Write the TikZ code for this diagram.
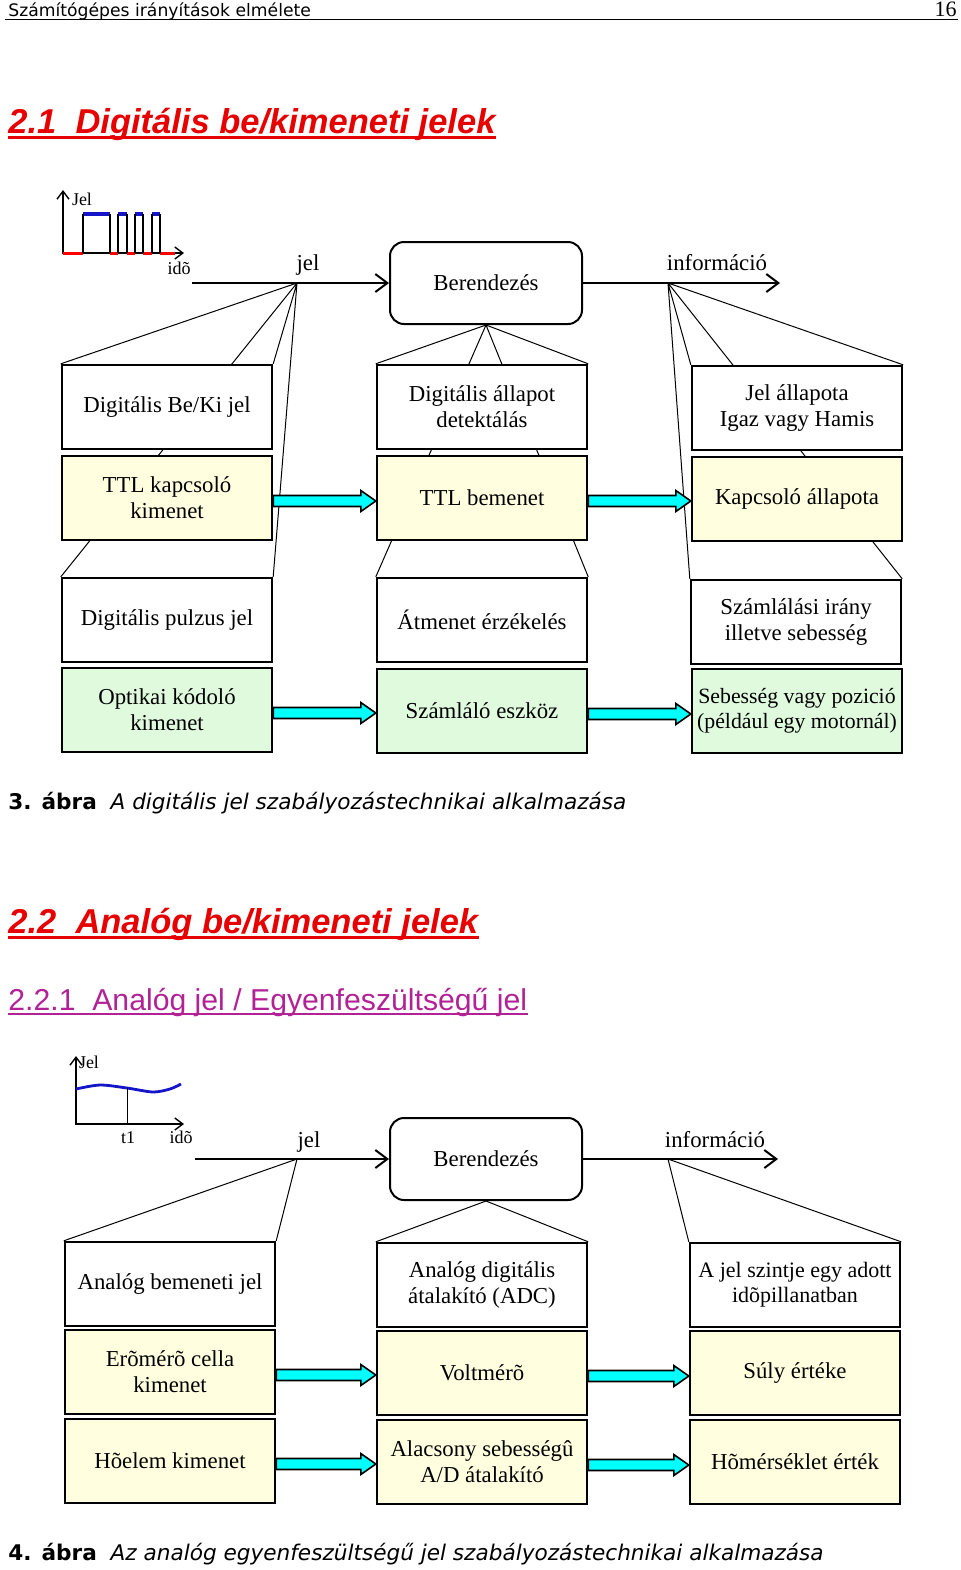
\documentclass[tikz,border=0pt]{standalone}
\usepackage{fontspec}
\setmainfont{Liberation Serif}
\setsansfont{Liberation Sans}
\newfontfamily\verdana{DejaVu Sans}
\usetikzlibrary{arrows.meta,positioning,calc,backgrounds}

\definecolor{boxyellow}{RGB}{255,255,224}
\definecolor{boxgreen}{RGB}{224,250,222}
\definecolor{headred}{RGB}{230,0,0}
\definecolor{subpurple}{RGB}{178,34,150}
\definecolor{sigblue}{RGB}{20,20,200}
\definecolor{arrowcyan}{RGB}{0,255,255}

\tikzset{
  box/.style={draw,line width=1.2pt,fill=white,minimum width=105pt,minimum height=42pt,
    align=center,inner sep=1pt,font=\fontsize{11.4}{13}\selectfont},
  ttlbox/.style={box,fill=boxyellow},
  encbox/.style={box,fill=boxgreen},
  device/.style={draw,line width=1pt,rounded corners=7pt,fill=white,minimum width=96pt,
    minimum height=41pt,font=\fontsize{11.4}{13}\selectfont},
  fan/.style={line width=0.5pt},
  flow/.style={line width=1pt,-{Straight Barb[length=6pt,width=9pt]}},
  axis/.style={line width=0.7pt,-{Straight Barb[length=4pt,width=6pt]}},
  lbl/.style={font=\fontsize{11.4}{13}\selectfont,inner sep=0pt,anchor=base},
  small/.style={font=\fontsize{9}{10}\selectfont,inner sep=0pt},
  heading/.style={anchor=base west,inner sep=0pt,text=headred,
    font=\sffamily\bfseries\itshape\fontsize{17.25}{20}\selectfont},
  subhead/.style={anchor=base west,inner sep=0pt,text=subpurple,
    font=\sffamily\fontsize{15.1}{18}\selectfont},
  caption/.style={anchor=base west,inner sep=0pt,font=\verdana\fontsize{10.8}{13}\selectfont},
  fat/.style={draw=black,line width=0.8pt,fill=arrowcyan},
}

\newcommand{\fatarrow}[2]{%
  \coordinate (tail) at ($(#1.east)+(0,3)$);
  \coordinate (tip) at (tail -| #2.west);
  \draw[fat] ($(tail)+(0,-5.5)$) -- ($(tip)+(-15,-5.5)$) -- ($(tip)+(-15,-10.5)$)
    -- (tip) -- ($(tip)+(-15,10.5)$) -- ($(tip)+(-15,5.5)$)
    -- ($(tail)+(0,5.5)$) -- cycle;}

\begin{document}
\begin{tikzpicture}[x=0.5pt,y=-0.5pt]
  \useasboundingbox (0,0) rectangle (960,1570);

  \node[anchor=base west,inner sep=0pt,font=\verdana\fontsize{8.6}{10}\selectfont] (runhead) at (8,16) {Számítógépes irányítások elmélete};
  \node[anchor=base east,inner sep=0pt,font=\fontsize{11}{12}\selectfont] (pageno) at (957,16) {16};
  \draw[line width=0.8pt] (5,19.5) -- (958,19.5);

  \node[heading] (sec21) at (8,133) {2.1\ \ Digitális be/kimeneti jelek};
  \draw[headred,line width=1.4pt] ($(sec21.base west)+(0,4.5)$) -- ($(sec21.base east)+(0,4.5)$);

  \draw[axis] (63,254) -- (63,190);
  \draw[axis] (63,253) -- (184,253);
  \node[small] (jelax1) at (82,199) {Jel};
  \node[small] (ido1) at (179,268) {idõ};
  \draw[red,line width=1.5pt] (63,253) -- (83,253) (110,253) -- (118,253) (127,253) -- (135,253)
    (143,253) -- (152,253) (160,253) -- (175,253);
  \draw[sigblue,line width=1.6pt] (83,214) -- (110,214) (118,214) -- (127,214) (135,214) -- (143,214)
    (152,214) -- (160,214);
  \foreach \e in {83,110,118,127,135,143,152,160}
    \draw[line width=0.8pt] (\e,253) -- (\e,214);

  \node[device] (dev1) at (486,283) {Berendezés};
  \coordinate (sigin1) at (192,283);
  \coordinate (infout1) at (780,283);
  \coordinate (jelpt1) at (297,283);
  \coordinate (infopt1) at (668,283);
  \draw[flow] (sigin1) -- (dev1);
  \draw[flow] (dev1) -- (infout1);
  \node[lbl] (jellbl1) at (308,270) {jel};
  \node[lbl] (infolbl1) at (717,270) {információ};

  \node[box] (A1) at (167,407) {Digitális Be/Ki jel};
  \node[ttlbox] (A2) at (167,498) {TTL kapcsoló\\kimenet};
  \node[box] (A3) at (167,620) {Digitális pulzus jel};
  \node[encbox] (A4) at (167,710) {Optikai kódoló\\kimenet};
  \node[box] (B1) at (482,407) {Digitális állapot\\detektálás};
  \node[ttlbox] (B2) at (482,498) {TTL bemenet};
  \node[box] (B3) at (482,620) {Átmenet érzékelés};
  \node[encbox] (B4) at (482,711) {Számláló eszköz};
  \node[box] (C1) at (797,408) {Jel állapota\\Igaz vagy Hamis};
  \node[ttlbox] (C2) at (797,499) {Kapcsoló állapota};
  \node[box] (C3) at (796,622) {Számlálási irány\\illetve sebesség};
  \node[encbox,font=\fontsize{10.9}{12.4}\selectfont] (C4) at (797,711) {Sebesség vagy pozició\\(például egy motornál)};

  \begin{pgfonlayer}{background}
    \draw[fan] (jelpt1) -- (A1.north west) (jelpt1) -- (A1.north east)
      (jelpt1) -- (A3.north west) (jelpt1) -- (A3.north east);
    \draw[fan] (dev1.south) -- (B1.north west) (dev1.south) -- (B1.north east)
      (dev1.south) -- (B3.north west) (dev1.south) -- (B3.north east);
    \draw[fan] (infopt1) -- (C1.north west) (infopt1) -- (C1.north east)
      (infopt1) -- (C3.north west) (infopt1) -- (C3.north east);
  \end{pgfonlayer}

  \fatarrow{A2}{B2}
  \fatarrow{B2}{C2}
  \fatarrow{A4}{B4}
  \fatarrow{B4}{C4}

  \node[caption] (cap3) at (8,809) {{\bfseries 3. ábra}\ \ \itshape A digitális jel szabályozástechnikai alkalmazása};

  \node[heading] (sec22) at (8,933) {2.2\ \ Analóg be/kimeneti jelek};
  \draw[headred,line width=1.4pt] ($(sec22.base west)+(0,4.5)$) -- ($(sec22.base east)+(0,4.5)$);
  \node[subhead] (sec221) at (8,1010) {2.2.1\ \ Analóg jel / Egyenfeszültségű jel};
  \draw[subpurple,line width=0.8pt] ($(sec221.base west)+(0,4)$) -- ($(sec221.base east)+(0,4)$);

  \draw[axis] (76,1125) -- (76,1056);
  \draw[axis] (76,1124) -- (184,1124);
  \draw[sigblue,line width=1.4pt] plot[smooth] coordinates {(76,1089) (100,1085) (127,1088) (153,1092) (170,1089) (181,1084)};
  \draw[line width=0.5pt] (127,1124) -- (127,1088);
  \node[small] (jelax2) at (89,1062) {Jel};
  \node[small] (t1) at (128,1138) {t1};
  \node[small] (ido2) at (181,1137) {idõ};

  \node[device] (dev2) at (486,1159) {Berendezés};
  \coordinate (sigin2) at (195,1159);
  \coordinate (infout2) at (778,1159);
  \coordinate (jelpt2) at (297,1159);
  \coordinate (infopt2) at (668,1159);
  \draw[flow] (sigin2) -- (dev2);
  \draw[flow] (dev2) -- (infout2);
  \node[lbl] (jellbl2) at (309,1147) {jel};
  \node[lbl] (infolbl2) at (715,1147) {információ};

  \node[box] (D1) at (170,1284) {Analóg bemeneti jel};
  \node[ttlbox] (D2) at (170,1372) {Erõmérõ cella\\kimenet};
  \node[ttlbox] (D3) at (170,1461) {Hõelem kimenet};
  \node[box] (E1) at (482,1285) {Analóg digitális\\átalakító (ADC)};
  \node[ttlbox] (E2) at (482,1373) {Voltmérõ};
  \node[ttlbox] (E3) at (482,1462) {Alacsony sebességû\\A/D átalakító};
  \node[box,font=\fontsize{11}{12.6}\selectfont] (F1) at (795,1285) {A jel szintje egy adott\\idõpillanatban};
  \node[ttlbox] (F2) at (795,1373) {Súly értéke};
  \node[ttlbox] (F3) at (795,1462) {Hõmérséklet érték};

  \begin{pgfonlayer}{background}
    \draw[fan] (jelpt2) -- (D1.north west) (jelpt2) -- (D1.north east);
    \draw[fan] (dev2.south) -- (E1.north west) (dev2.south) -- (E1.north east);
    \draw[fan] (infopt2) -- (F1.north west) (infopt2) -- (F1.north east);
  \end{pgfonlayer}

  \fatarrow{D2}{E2}
  \fatarrow{E2}{F2}
  \fatarrow{D3}{E3}
  \fatarrow{E3}{F3}

  \node[caption] (cap4) at (8,1560) {{\bfseries 4. ábra}\ \ \itshape Az analóg egyenfeszültségű jel szabályozástechnikai alkalmazása};

\end{tikzpicture}
\end{document}
